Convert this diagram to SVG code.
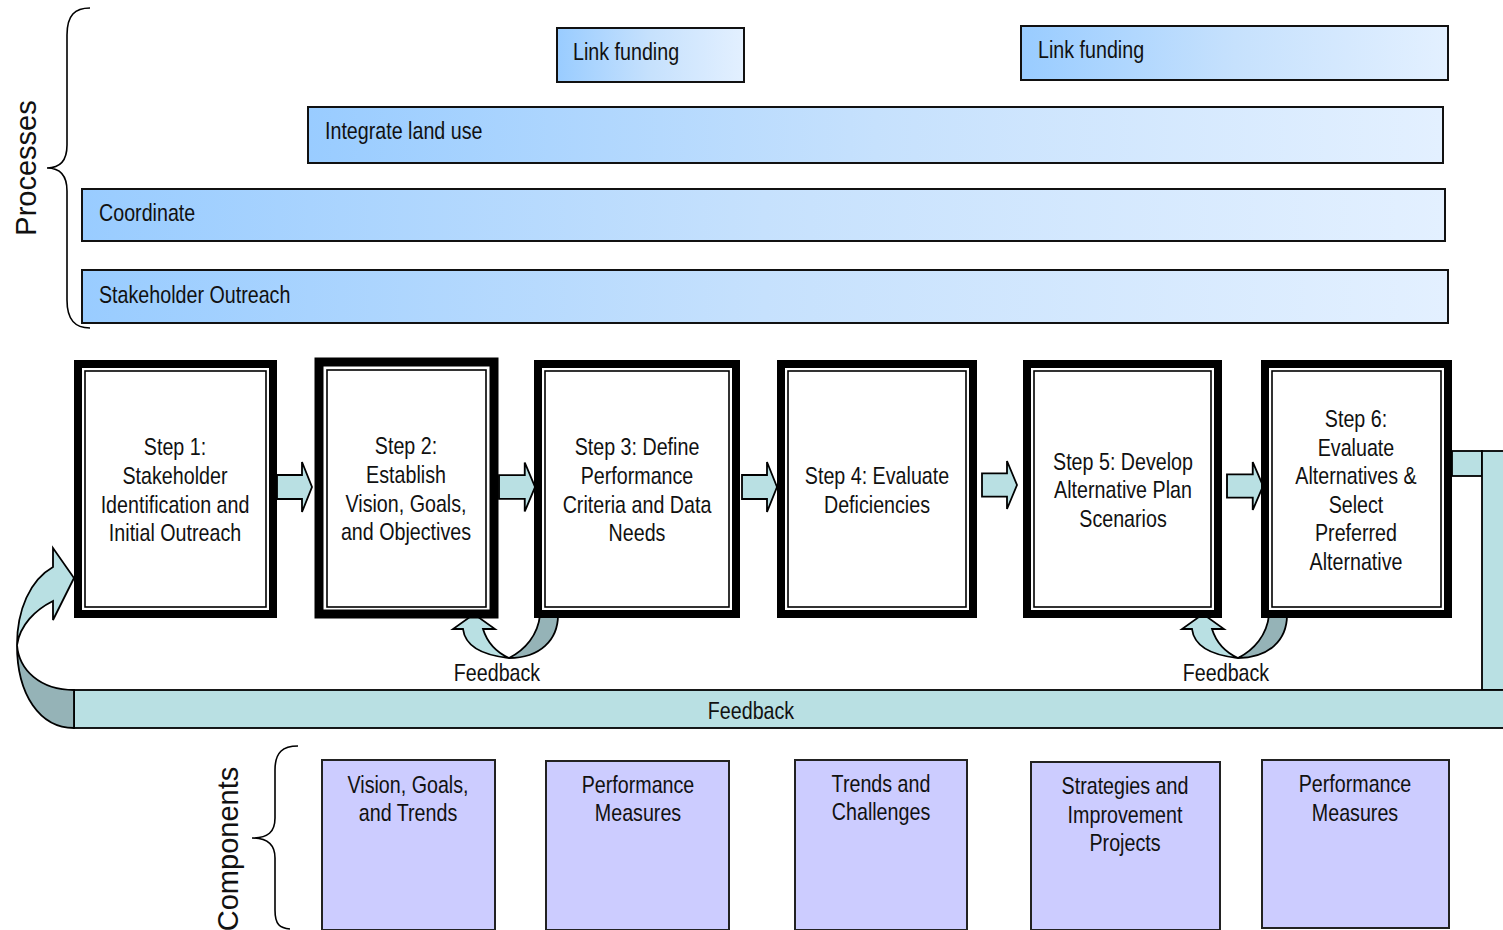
<svg xmlns="http://www.w3.org/2000/svg" width="1503" height="930" viewBox="0 0 1503 930">
<defs>
<linearGradient id="bar" x1="0" y1="0" x2="1" y2="0">
<stop offset="0" stop-color="#99ccff"/>
<stop offset="0.5" stop-color="#c6e1fd"/>
<stop offset="1" stop-color="#e3f0ff"/>
</linearGradient>
<path id="blk" d="M0,-12 L25,-12 L25,-25 L35,0 L25,25 L25,12 L0,12 Z"/>
</defs>
<style>
text{font-family:"Liberation Sans",Arial,sans-serif;font-size:24px;fill:#111}
.c{text-anchor:middle}
.big{font-size:29px}
.bar{fill:url(#bar);stroke:#111;stroke-width:2}
.outer{fill:#fff;stroke:#000;stroke-width:8}
.inner{fill:none;stroke:#000;stroke-width:1.6}
.lb{fill:#b9e0e3;stroke:#000;stroke-width:1.8;stroke-linejoin:miter}
.db{fill:#95b3b7;stroke:#000;stroke-width:1.8}
.comp{fill:#ccccff;stroke:#222;stroke-width:2}
.brace{fill:none;stroke:#000;stroke-width:1.6}
</style>
<rect width="1503" height="930" fill="#fff"/>

<g id="processes-label">
<path class="brace" d="M90,8 C75,8 67,15 67,35 L67,145 C67,160 60,168 47,168 C60,168 67,176 67,191 L67,300 C67,320 75,328 90,328"/>
<text class="big c" transform="translate(36,168) rotate(-90)">Processes</text>
</g>

<g id="link-funding-1"><rect class="bar" x="557" y="28" width="187" height="54"/><text transform="translate(573,60) scale(0.82,1)">Link funding</text></g>
<g id="link-funding-2"><rect class="bar" x="1021" y="26" width="427" height="54"/><text transform="translate(1038,58) scale(0.82,1)">Link funding</text></g>
<g id="integrate-land-use"><rect class="bar" x="308" y="107" width="1135" height="56"/><text transform="translate(325,139) scale(0.82,1)">Integrate land use</text></g>
<g id="coordinate"><rect class="bar" x="82" y="189" width="1363" height="52"/><text transform="translate(99,221) scale(0.82,1)">Coordinate</text></g>
<g id="stakeholder-outreach"><rect class="bar" x="82" y="270" width="1366" height="53"/><text transform="translate(99,303) scale(0.82,1)">Stakeholder Outreach</text></g>

<g id="connectors">
<use href="#blk" class="lb" transform="translate(277,487)"/>
<use href="#blk" class="lb" transform="translate(499,487) scale(1.03,0.98)"/>
<use href="#blk" class="lb" transform="translate(742,487)"/>
<use href="#blk" class="lb" transform="translate(982,485) scale(1,0.96)"/>
<use href="#blk" class="lb" transform="translate(1227,486) scale(1.03,0.96)"/>
<g id="fb1">
<path class="db" d="M540,615 L558,615 C558,640 540,658 509,658 C525,650 538,635 540,615 Z"/>
<path class="lb" d="M509,658 C480,655 465,645 463,629 L453,629 L474,614 L495,629 L483,629 C488,645 498,653 509,658 Z"/>
</g>
<g id="fb2" transform="translate(729,0)">
<path class="db" d="M540,615 L558,615 C558,640 540,658 509,658 C525,650 538,635 540,615 Z"/>
<path class="lb" d="M509,658 C480,655 465,645 463,629 L453,629 L474,614 L495,629 L483,629 C488,645 498,653 509,658 Z"/>
</g>
<rect class="lb" x="1452" y="451" width="30" height="25"/>
<rect class="lb" x="1482" y="451" width="30" height="239"/>
<rect class="lb" x="74" y="690" width="1440" height="38"/>
<path class="db" d="M74,690 C40,690 19,670 17,645 C17,695 40,728 74,728 Z"/>
<path class="lb" d="M17,645 C17,610 30,580 53,567 L53,548 L74,578 L53,620 L53,601 C35,610 20,625 17,645 Z"/>
<text class="c" transform="translate(497,681) scale(0.82,1)">Feedback</text>
<text class="c" transform="translate(1226,681) scale(0.82,1)">Feedback</text>
<text class="c" transform="translate(751,719) scale(0.82,1)">Feedback</text>
</g>

<g id="step1">
<rect class="outer" x="78" y="364" width="195" height="250"/>
<rect class="inner" x="85" y="371" width="181" height="236"/>
<text class="c" transform="translate(175,0) scale(0.82,1)"><tspan x="0" y="455">Step 1:</tspan><tspan x="0" y="484">Stakeholder</tspan><tspan x="0" y="513">Identification and</tspan><tspan x="0" y="541">Initial Outreach</tspan></text>
</g>
<g id="step2">
<rect class="outer" x="319" y="362" width="175" height="252" style="stroke-width:9"/>
<rect class="inner" x="327" y="370" width="159" height="237"/>
<text class="c" transform="translate(406,0) scale(0.82,1)"><tspan x="0" y="454">Step 2:</tspan><tspan x="0" y="483">Establish</tspan><tspan x="0" y="512">Vision, Goals,</tspan><tspan x="0" y="540">and Objectives</tspan></text>
</g>
<g id="step3">
<rect class="outer" x="538" y="364" width="198" height="250"/>
<rect class="inner" x="545" y="371" width="184" height="236"/>
<text class="c" transform="translate(637,0) scale(0.82,1)"><tspan x="0" y="455">Step 3: Define</tspan><tspan x="0" y="484">Performance</tspan><tspan x="0" y="513">Criteria and Data</tspan><tspan x="0" y="541">Needs</tspan></text>
</g>
<g id="step4">
<rect class="outer" x="781" y="364" width="192" height="250"/>
<rect class="inner" x="788" y="371" width="178" height="236"/>
<text class="c" transform="translate(877,0) scale(0.82,1)"><tspan x="0" y="484">Step 4: Evaluate</tspan><tspan x="0" y="513">Deficiencies</tspan></text>
</g>
<g id="step5">
<rect class="outer" x="1027" y="364" width="191" height="250"/>
<rect class="inner" x="1034" y="371" width="177" height="236"/>
<text class="c" transform="translate(1123,0) scale(0.82,1)"><tspan x="0" y="470">Step 5: Develop</tspan><tspan x="0" y="498">Alternative Plan</tspan><tspan x="0" y="527">Scenarios</tspan></text>
</g>
<g id="step6">
<rect class="outer" x="1265" y="364" width="183" height="250"/>
<rect class="inner" x="1272" y="371" width="169" height="236"/>
<text class="c" transform="translate(1356,0) scale(0.82,1)"><tspan x="0" y="427">Step 6:</tspan><tspan x="0" y="456">Evaluate</tspan><tspan x="0" y="484">Alternatives &amp;</tspan><tspan x="0" y="513">Select</tspan><tspan x="0" y="541">Preferred</tspan><tspan x="0" y="570">Alternative</tspan></text>
</g>

<g id="components-label">
<path class="brace" d="M298,746 C283,746 275,752 275,770 L275,818 C275,832 268,838 252,838 C268,838 275,845 275,858 L275,910 C275,925 280,928 290,929"/>
<text class="big c" transform="translate(238,849) rotate(-90)">Components</text>
</g>
<g id="comp1"><rect class="comp" x="322" y="760" width="173" height="170"/><text class="c" transform="translate(408,0) scale(0.82,1)"><tspan x="0" y="793">Vision, Goals,</tspan><tspan x="0" y="821">and Trends</tspan></text></g>
<g id="comp2"><rect class="comp" x="546" y="761" width="183" height="169"/><text class="c" transform="translate(638,0) scale(0.82,1)"><tspan x="0" y="793">Performance</tspan><tspan x="0" y="821">Measures</tspan></text></g>
<g id="comp3"><rect class="comp" x="795" y="760" width="172" height="170"/><text class="c" transform="translate(881,0) scale(0.82,1)"><tspan x="0" y="792">Trends and</tspan><tspan x="0" y="820">Challenges</tspan></text></g>
<g id="comp4"><rect class="comp" x="1031" y="762" width="189" height="168"/><text class="c" transform="translate(1125,0) scale(0.82,1)"><tspan x="0" y="794">Strategies and</tspan><tspan x="0" y="823">Improvement</tspan><tspan x="0" y="851">Projects</tspan></text></g>
<g id="comp5"><rect class="comp" x="1262" y="760" width="187" height="168"/><text class="c" transform="translate(1355,0) scale(0.82,1)"><tspan x="0" y="792">Performance</tspan><tspan x="0" y="821">Measures</tspan></text></g>
</svg>
